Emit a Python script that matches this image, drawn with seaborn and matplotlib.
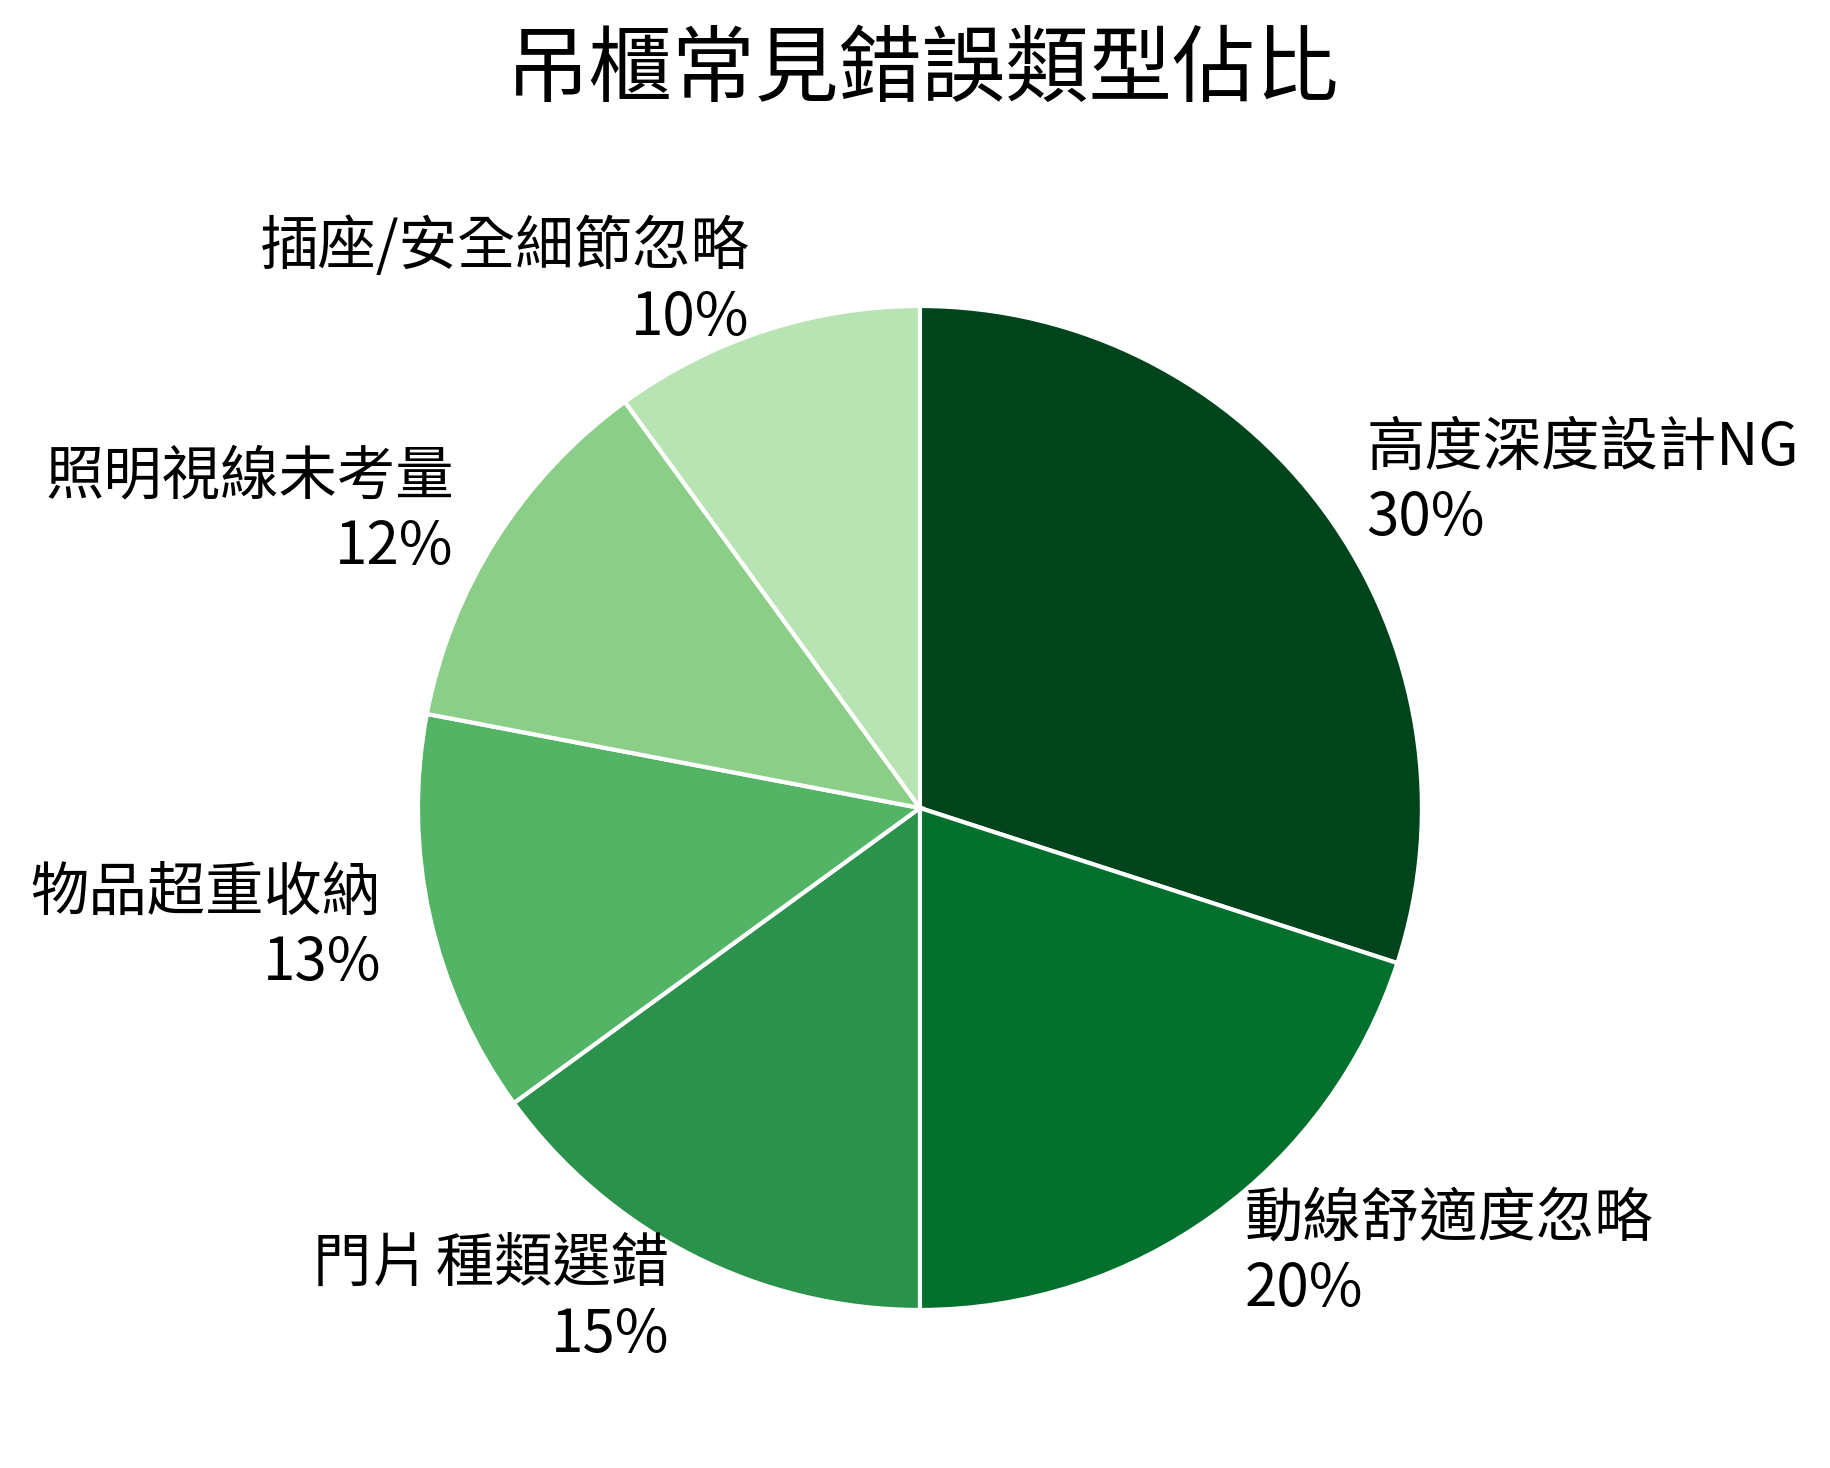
import numpy as np
import matplotlib
matplotlib.use("Agg")
import matplotlib.pyplot as plt
import seaborn as sns

# data
categories = ["高度深度設計NG", "動線舒適度忽略", "門片\u200a種類選錯", "物品超重收納", "照明視線未考量", "插座/安全細節忽略"]
shares = [30, 20, 15, 13, 12, 10]

sns.set_theme(style="white")
plt.rcParams['font.family'] = ['Noto Sans CJK TC', 'DejaVu Sans']

# Greens, darkest for the biggest slice
colors = plt.cm.Greens(np.linspace(1.0, 0.3, len(shares)))

labels = [f"{c}\n{v}%" for c, v in zip(categories, shares)]

fig = plt.figure(figsize=(18.3, 14.68), dpi=100)
ax = fig.add_axes([0.2284, 0.1076, 0.5486, 0.684])

ax.pie(shares, labels=labels, colors=colors, startangle=90, counterclock=False,
       labeldistance=1.1,
       wedgeprops=dict(edgecolor="white", linewidth=3),
       textprops=dict(fontsize=42, color="black"))
ax.set_xlim(-1, 1)
ax.set_ylim(-1, 1)
ax.set_aspect("equal")
ax.axis("off")

fig.text(0.504, 0.952, "吊櫃常見錯誤類型佔比", ha="center", va="center",
         fontsize=60, color="black")

fig.savefig("out.png", dpi=100, facecolor="white")
